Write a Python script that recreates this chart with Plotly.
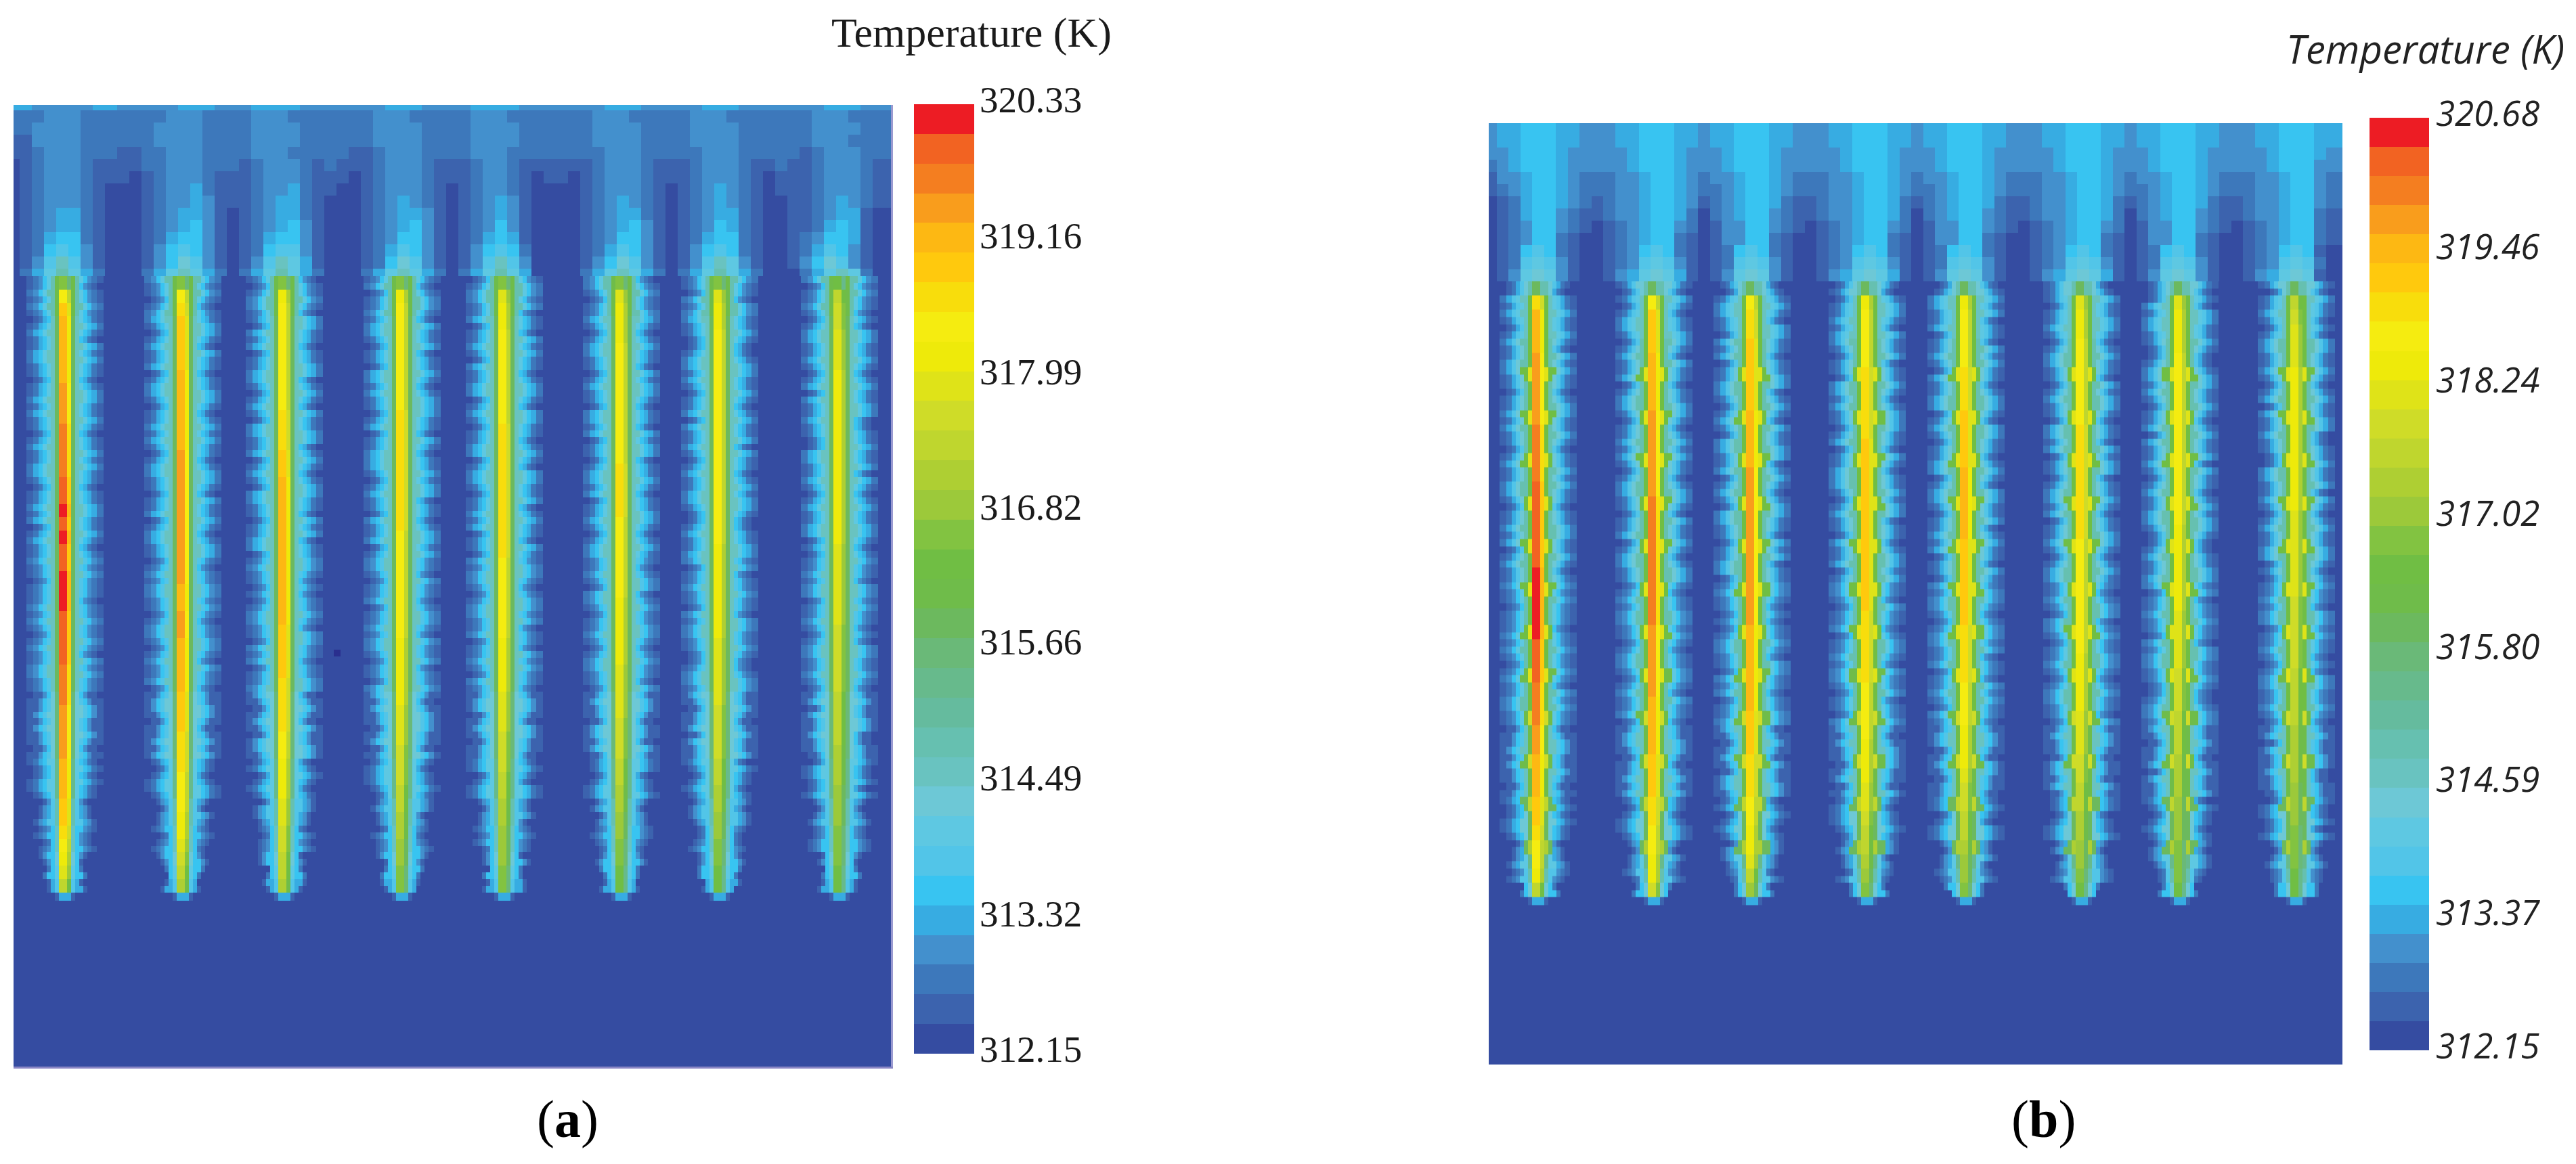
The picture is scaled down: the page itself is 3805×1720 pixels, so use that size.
import numpy as np
import plotly.graph_objects as go

W, H = 3805, 1720

# colour bands of the legend, bottom to top, one base-32 digit per band
band_colors = ["#354ca1", "#3c63ae", "#3d78bb", "#4390cd", "#37ace2", "#38c4f1", "#52c5e8", "#5ec8e2",
               "#6dc8d6", "#69c3c0", "#66c0b0", "#65bb9e", "#67ba8c", "#6ab978", "#6cb95e", "#6fbc4a",
               "#70be44", "#82c341", "#9cc93a", "#aecf33", "#bfd62e", "#cfdc28", "#dfe318", "#eeea0a",
               "#f5ec10", "#f8dd0c", "#ffc90d", "#fdb813", "#f99d1c", "#f47e20", "#f26322", "#ed1c24"]

ticks_a = [312.15, 313.32, 314.49, 315.66, 316.82, 317.99, 319.16, 320.33]
ticks_b = [312.15, 313.37, 314.59, 315.80, 317.02, 318.24, 319.46, 320.68]

centers_a = [96, 270, 420, 594, 745, 918, 1063, 1240]
centers_b = [2272, 2443, 2588, 2758, 2904, 3075, 3220, 3392]

# temperature along each heated wall, top to bottom
core_a = ["hoqrrrrrsssttttuuvuvuuvvvuuuutttssssrrrqqponmk",
          "hopqqqqrrrrrrssssssssssrrssrrrrqqqpppooonnmlkj",
          "hnoooooooopppqqrrrrrrrrrrrqqqqppppoonnnmmllkkj",
          "hnoooooooopppppppppoooooooonnnnnmmmlllkkjjiihh",
          "hmnnoooooooppppppppppoooooonnnnmmmlllkkjjiiihh",
          "hmnnnoooooooooppppoooooonnnnnmmmmlllkkjjiihhgg",
          "hmnnoooooooooooooooonnnnnnnmmmmmllllkkjjiihhgg",
          "gkllmmmnnnnnnnnnnnnnmmmmmmlllllkkkkjjjiiihhhgg"]
core_b = ["eprrrsssssttttuuuuuuvvvvvuuutttssrrrqqpoonk",
          "eoqqqrrrrsssssstttttttttsssssrrrrqqqppoonnlj",
          "eoppqqqqqrrrrsssssssssssrrrrrrqqqpppoonnmki",
          "enoooopppppqqqqqqqqqqqqpppppoooonnnmmlkkjih",
          "enoooopppqqqqrrrrrqqqqqqppppooonnnmllkkjiih",
          "emnnooooooppppppppoooooooonnnnmmmllkkjjiihg",
          "emnnnoooooooooooonnnnnnmmmmlllkkkjjjiiihhhg",
          "eklmmmnnnnnnnnnnmmmmmmlllllkkkkjjjjiiihhhgg"]

# rings outwards from the wall: (number of rows, levels)
rings_a = [(3, "fa75321"), (18, "e975421"), (10, "e965321"), (5, "d865311"), (3, "c754210"),
           (2, "a643100"), (2, "9532100"), (1, "8531000"), (1, "7520000"), (1, "6410000")]
rings_b = [(1, "a864210"), (3, "g976421"), (17, "ga86421"), (10, "ga75321"), (5, "f965311"),
           (3, "e854210"), (2, "c743100"), (1, "a632100"), (1, "8520000")]

# rows with a hot spot in panel b, and the levels next to the wall there
node_rows_b = [6, 9, 12, 15, 18, 21, 24, 27, 30, 33, 36, 39]
node_ring_b = "mmmmmmmmllkj"
node_next_b = "gggggggfffee"

# ragged plume edge: 0 narrower, 1 normal, 2 wider
edge_wobble = ["11212101211221101121211012112210112120121121101",
               "21101221012112012210112121012211011201221101212",
               "10122110212011221012102211201210221101122012110",
               "12011212210110221211012011222101211021120122101",
               "01221120112102112201210112201221011212011021221",
               "22101121012211012110221201101221201121012211210",
               "11021221100122121011202112101211221001211220112",
               "20112101221121012021121100221121012112201011212"]

cell_offsets = [-57, -47, -39, -33, -27, -21, -15, -9, 3, 9, 15, 21, 27, 33, 39, 47, 57]

# region above the heated walls, one digit per cell
top_a = ["443333344 333334443 334444333 333344433 334444333 333344433 333444333 333344433",
         "222333222 222233322 223332222 222333222 223332222 222333222 223332222 222333222",
         "223333222 222333322 223333222 222333322 223333222 222333322 223333222 222333322",
         "113333222 222333322 223333222 222333322 223333222 222333322 223333222 222333222",
         "112333222 112233322 223332222 211233322 223332222 222233322 222333222 221233322",
         "012333211 112233322 212333212 111233321 112332111 111233321 112333211 211233321",
         "012333211 101233321 112333211 101233321 112332101 101233321 112333210 111233321",
         "012333210 001233421 112334211 001233321 012332100 001233321 012343210 111233321",
         "012333210 001233431 112344210 001234321 012343100 001234321 012343210 011234321",
         "012344210 001234431 012344210 001234431 012343100 001234421 012344210 011234410",
         "012344210 001234531 012345310 001234531 012353100 001234531 012354210 011245410",
         "012455210 001245531 012455310 001235531 012454100 001235531 012455210 012355410",
         "012565310 001356531 012566310 001246531 013565200 001246531 013565210 012465310",
         "013696310 001358631 013697410 001258631 013696300 001358631 013697310 013586310",
         "0247a7420 002479742 0247a7420 002479742 0247a7400 002479742 0247a7420 002479720"]
top_b = ["344555443 334455544 344555443 334455544 344555443 334455544 344555443 334455544",
         "344555443 334455544 344555443 334455544 344555443 334455544 344555443 334455544",
         "334555433 333455543 334555433 333455543 334555433 333455543 334555433 333455543",
         "234555433 333455543 334555433 333455543 334555433 333455543 334555433 333455533",
         "133455432 223345543 233455432 223345543 233455432 223345543 233455432 223345532",
         "123455432 223345543 223455432 223345543 223455432 223345543 223455432 223345532",
         "012455432 123345543 123455421 123345542 123455421 123345542 123455421 123345532",
         "012455321 123345542 023455321 123345542 023455321 123345542 023455321 123345521",
         "012355321 012345532 013355321 012345532 013355321 012345532 013355321 012345521",
         "012355210 012345521 013355210 012345521 013355210 012345521 013355210 012345521",
         "012565210 012356521 012565210 012356521 012565210 012356521 012565210 012356510",
         "012676310 012367631 012676310 012367631 012676310 012367631 012676310 012367620",
         "013787310 013478741 013787310 013478741 013787310 013478741 013787310 013478710",
         "014898410 014589841 014898410 014589841 014898410 014589841 014898410 014589810"]

speck_x = [498]
speck_y = [965]


def kelvin(levels, t_min, t_max):
    return t_min + (np.array(levels, dtype=float) + 0.5) * (t_max - t_min) / 32


def scale():
    out = []
    for i, c in enumerate(band_colors):
        out.append([i / 32, c])
        out.append([(i + 1) / 32, c])
    return out


def top_trace(rows, x0, dx, y_edges, t_min, t_max, xa, ya):
    z = []
    for r in rows:
        r = r.replace(" ", "")
        z.append([int(c, 32) for c in r + r[-1]])
    x = [x0 + dx * i for i in range(74)]
    return go.Heatmap(x=x, y=y_edges, z=kelvin(z, t_min, t_max), zmin=t_min, zmax=t_max, colorscale=scale(),
                      showscale=False, xaxis=xa, yaxis=ya)


def heater_trace(centers, core, rings, y0, dy, bottom, left, right, t_min, t_max, xa, ya, nodes=None):
    x = [left]
    for c in centers:
        x += [c + o for o in cell_offsets]
    x.append(right)

    ring_rows = []
    for n, s in rings:
        ring_rows += [s] * n

    # each read row is split in two so the ragged edge is finer
    z = []
    for sub in range(2 * len(ring_rows)):
        k = sub // 2
        row = [0]
        for p in range(8):
            lev = [int(c, 32) for c in ring_rows[k]]
            if nodes and k in nodes:
                lev[0] = int(nodes[k][0], 32)
                lev[1] = int(nodes[k][1], 32)
            wob = edge_wobble[p]
            side_l, side_r = [], []
            for i in range(7):
                if i < 2:
                    side_l.append(lev[i])
                    side_r.append(lev[i])
                    continue
                jl = i + 1 - int(wob[sub % 47])
                jr = i + 1 - int(wob[::-1][sub % 47])
                side_l.append(lev[jl] if jl < 7 else 0)
                side_r.append(lev[jr] if jr < 7 else 0)
            hot = int(core[p][k], 32)
            row += side_l[::-1] + [hot, max(hot - 4, 0)] + side_r + [0]
        z.append(row)

    # small tip under the wall
    tip = [0]
    for p in range(8):
        tip += [0] * 6 + [1, 4, 4, 1] + [0] * 6 + [0]
    z.append(tip)
    z.append([0] * len(tip))

    n = 2 * len(ring_rows)
    y = [y0 + dy / 2 * k for k in range(n + 1)] + [y0 + dy / 2 * n + 12, bottom]
    return go.Heatmap(x=x, y=y, z=kelvin(z, t_min, t_max), zmin=t_min, zmax=t_max, colorscale=scale(),
                      showscale=False, xaxis=xa, yaxis=ya)


def legend_trace(t_min, t_max, xa, ya):
    step = (t_max - t_min) / 32
    y = [t_min + step * i for i in range(33)]
    z = [[t_min + step * (i + 0.5)] for i in range(32)]
    return go.Heatmap(x=[0, 1], y=y, z=z, zmin=t_min, zmax=t_max, colorscale=scale(),
                      showscale=False, xaxis=xa, yaxis=ya)


fig = go.Figure()

t_a = (312.15, 320.33)
t_b = (312.15, 320.68)

fig.add_trace(top_trace(top_a, 11, 18, [155, 163] + [163 + 18 * i for i in range(1, 15)], *t_a, "x", "y"))
fig.add_trace(heater_trace(centers_a, core_a, rings_a, 408, 19.8, 1576, 20, 1316, *t_a, "x", "y"))
fig.add_trace(go.Scatter(x=speck_x, y=speck_y, mode="markers", xaxis="x", yaxis="y", showlegend=False,
                         marker=dict(symbol="square", size=10, color="#2a2f8e")))
fig.add_trace(legend_trace(*t_a, "x2", "y2"))

fig.add_trace(top_trace(top_b, 2193, 17.5, [182 + 18 * i for i in range(15)], *t_b, "x3", "y3"))
fig.add_trace(heater_trace(centers_b, core_b, rings_b, 415.5, 21.17, 1573, 2199, 3460, *t_b, "x3", "y3",
                           nodes=dict(zip(node_rows_b, zip(node_ring_b, node_next_b)))))
fig.add_trace(legend_trace(*t_b, "x4", "y4"))


def dom_x(a, b):
    return [a / W, b / W]


def dom_y(top, bottom):
    return [1 - bottom / H, 1 - top / H]


plain = dict(showgrid=False, zeroline=False, showticklabels=False, ticks="", automargin=False)
serif = dict(family="Liberation Serif", size=55, color="#1a1a1a")
sans = dict(family="Open Sans", size=51, color="#222222", style="italic")

fig.update_layout(
    width=W, height=H, autosize=False, showlegend=False,
    margin=dict(l=0, r=0, t=0, b=0),
    paper_bgcolor="white", plot_bgcolor="white",
    xaxis=dict(domain=dom_x(20, 1316), range=[20, 1316], anchor="y", showline=True, linecolor="#8a86c4", linewidth=3, **plain),
    yaxis=dict(domain=dom_y(155, 1576), range=[1576, 155], anchor="x", side="right", showline=True, linecolor="#9a9ad0", linewidth=3, **plain),
    xaxis2=dict(domain=dom_x(1350, 1439), range=[0, 1], anchor="y2", visible=False, automargin=False),
    yaxis2=dict(domain=dom_y(154, 1557), range=list(t_a), anchor="x2", side="right", showgrid=False, zeroline=False,
                ticks="", tickmode="array", tickvals=ticks_a, ticktext=["%.2f" % t for t in ticks_a],
                tickfont=serif, ticklabelstandoff=7, ticklabelshift=-7, automargin=False),
    xaxis3=dict(domain=dom_x(2199, 3460), range=[2199, 3460], anchor="y3", **plain),
    yaxis3=dict(domain=dom_y(182, 1573), range=[1573, 182], anchor="x3", **plain),
    xaxis4=dict(domain=dom_x(3500, 3588), range=[0, 1], anchor="y4", visible=False, automargin=False),
    yaxis4=dict(domain=dom_y(174, 1552), range=list(t_b), anchor="x4", side="right", showgrid=False, zeroline=False,
                ticks="", tickmode="array", tickvals=ticks_b, ticktext=["%.2f" % t for t in ticks_b],
                tickfont=sans, ticklabelstandoff=9, ticklabelshift=-6, automargin=False),
    annotations=[
        dict(text="Temperature (K)", x=1226 / W, y=1 - 48 / H, xref="paper", yref="paper", xanchor="left", yanchor="middle",
             showarrow=False, font=dict(family="Liberation Serif", size=62, color="#1a1a1a")),
        dict(text="Temperature (K)", x=3790 / W, y=1 - 72 / H, xref="paper", yref="paper", xanchor="right", yanchor="middle",
             showarrow=False, font=dict(family="Open Sans", size=58, color="#222222", style="italic")),
        dict(text="(<b>a</b>)", x=838 / W, y=1 - 1653 / H, xref="paper", yref="paper", xanchor="center", yanchor="middle",
             showarrow=False, font=dict(family="Liberation Serif", size=78, color="black")),
        dict(text="(<b>b</b>)", x=3018 / W, y=1 - 1653 / H, xref="paper", yref="paper", xanchor="center", yanchor="middle",
             showarrow=False, font=dict(family="Liberation Serif", size=78, color="black")),
    ],
)

fig.write_html("out.html", config=dict(displayModeBar=False), post_script="document.body.style.margin='0';")
